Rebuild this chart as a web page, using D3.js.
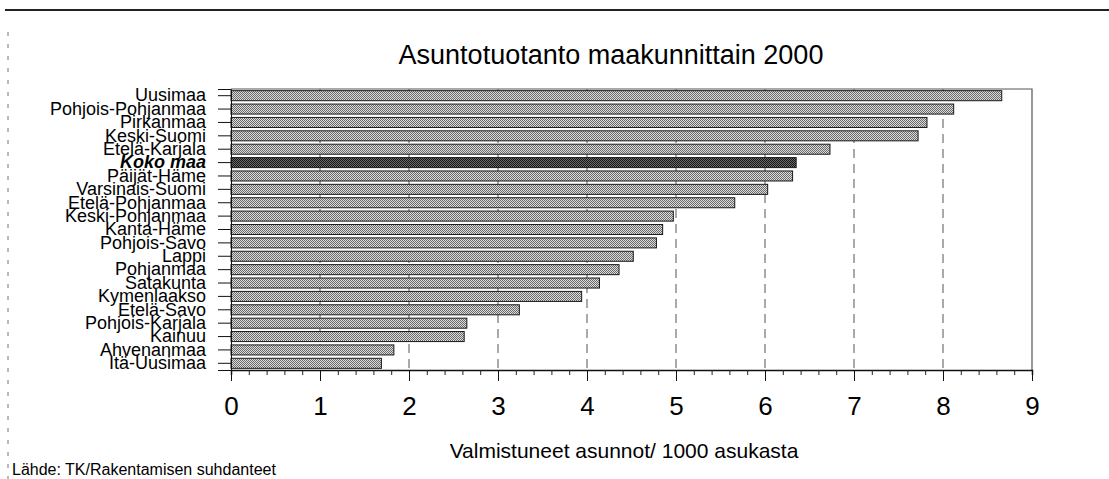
<!DOCTYPE html>
<html>
<head>
<meta charset="utf-8">
<script src="https://cdn.jsdelivr.net/npm/d3@7"></script>
<style>
  html, body { margin: 0; padding: 0; background: #fff; }
  svg { display: block; }
  text { font-family: "Liberation Sans", Arial, sans-serif; fill: #000; }
</style>
</head>
<body>
<svg id="chart" width="1109" height="479"></svg>
<script>
// Valmistuneet asunnot / 1000 asukasta, maakunnittain vuonna 2000
const regions = [
  "Uusimaa", "Pohjois-Pohjanmaa", "Pirkanmaa", "Keski-Suomi", "Etelä-Karjala",
  "Koko maa", "Päijät-Häme", "Varsinais-Suomi", "Etelä-Pohjanmaa", "Keski-Pohjanmaa",
  "Kanta-Häme", "Pohjois-Savo", "Lappi", "Pohjanmaa", "Satakunta",
  "Kymenlaakso", "Etelä-Savo", "Pohjois-Karjala", "Kainuu", "Ahvenanmaa", "Itä-Uusimaa"
];
const dwellingsPer1000 = [
  8.66, 8.12, 7.82, 7.72, 6.73,
  6.35, 6.31, 6.03, 5.66, 4.97,
  4.85, 4.78, 4.52, 4.36, 4.14,
  3.94, 3.24, 2.65, 2.62, 1.83, 1.69
];
const wholeCountry = "Koko maa";
const xTicks = [0, 1, 2, 3, 4, 5, 6, 7, 8, 9];
const titleText = "Asuntotuotanto maakunnittain 2000";
const xTitleText = "Valmistuneet asunnot/ 1000 asukasta";
const sourceText = "Lähde: TK/Rakentamisen suhdanteet";

const rows = regions.map((r, i) => ({ region: r, value: dwellingsPer1000[i] }));

const svg = d3.select("#chart");
const plot = { left: 231, right: 1032, top: 89, bottom: 370 };

const x = d3.scaleLinear().domain([0, 9]).range([plot.left, plot.right]);
const y = d3.scaleBand().domain(regions).range([plot.top, plot.bottom])
  .paddingInner(0.25).paddingOuter(0.125);

// halftone-like fills for the bars
const defs = svg.append("defs");
function halftone(id, bg, dot) {
  const p = defs.append("pattern").attr("id", id)
    .attr("width", 2).attr("height", 2).attr("patternUnits", "userSpaceOnUse");
  p.append("rect").attr("width", 2).attr("height", 2).attr("fill", bg);
  p.append("rect").attr("x", 0).attr("y", 0).attr("width", 1).attr("height", 1).attr("fill", dot);
  p.append("rect").attr("x", 1).attr("y", 1).attr("width", 1).attr("height", 1).attr("fill", dot);
}
halftone("fillRegion", "#dcdcdc", "#6a6a6a");
halftone("fillCountry", "#6a6a6a", "#151515");

// outer frame of the figure
svg.append("line").attr("x1", 5).attr("x2", 1109).attr("y1", 10).attr("y2", 10)
  .attr("stroke", "#222").attr("stroke-width", 2);
svg.append("line").attr("x1", 8).attr("x2", 8).attr("y1", 32).attr("y2", 479)
  .attr("stroke", "#777").attr("stroke-width", 1).attr("stroke-dasharray", "4,8");

// title
svg.append("text").attr("x", 611).attr("y", 64).attr("text-anchor", "middle")
  .style("font-size", "27px").text(titleText);

// dashed vertical gridlines
svg.append("g").selectAll("line").data(xTicks.filter(d => d > 0 && d < 9)).join("line")
  .attr("x1", d => x(d)).attr("x2", d => x(d))
  .attr("y1", plot.top).attr("y2", plot.bottom)
  .attr("stroke", "#555").attr("stroke-width", 1).attr("stroke-dasharray", "9,6");

// plot frame (top and right)
svg.append("path")
  .attr("d", `M${plot.left},${plot.top}H${plot.right}V${plot.bottom}`)
  .attr("fill", "none").attr("stroke", "#555").attr("stroke-width", 1.2);

// bars
svg.append("g").selectAll("rect").data(rows).join("rect")
  .attr("x", x(0))
  .attr("y", d => y(d.region))
  .attr("width", d => x(d.value) - x(0))
  .attr("height", y.bandwidth())
  .attr("fill", d => d.region === wholeCountry ? "url(#fillCountry)" : "url(#fillRegion)")
  .attr("stroke", "#1a1a1a").attr("stroke-width", 1);

// category axis
const yAxis = svg.append("g").attr("transform", `translate(${plot.left},0)`)
  .call(d3.axisLeft(y).tickSize(13).tickPadding(12));
yAxis.select(".domain").attr("stroke", "#111");
yAxis.selectAll(".tick line").attr("stroke", "#111");
yAxis.selectAll(".tick text")
  .style("font-size", "18px")
  .style("font-family", "'Liberation Sans', Arial, sans-serif")
  .style("font-weight", d => d === wholeCountry ? "bold" : "normal")
  .style("font-style", d => d === wholeCountry ? "italic" : "normal");

// value axis: minor ticks every 0.2, labelled ticks on integers
const xAxisG = svg.append("g").attr("transform", `translate(0,${plot.bottom})`);
xAxisG.call(d3.axisBottom(x).tickValues(d3.range(0, 9.001, 0.2)).tickSize(5).tickFormat(""));
xAxisG.call(g => g.select(".domain").attr("stroke", "#111").attr("stroke-width", 1.5));
xAxisG.selectAll(".tick line").attr("stroke", "#222");
const xMajor = svg.append("g").attr("transform", `translate(0,${plot.bottom})`)
  .call(d3.axisBottom(x).tickValues(xTicks).tickSize(11).tickPadding(16).tickFormat(d3.format("d")));
xMajor.select(".domain").remove();
xMajor.selectAll(".tick line").attr("stroke", "#111");
xMajor.selectAll(".tick text").style("font-size", "26px")
  .style("font-family", "'Liberation Sans', Arial, sans-serif");

// axis title and source
svg.append("text").attr("x", 624).attr("y", 458).attr("text-anchor", "middle")
  .style("font-size", "21px").text(xTitleText);
svg.append("text").attr("x", 12).attr("y", 475)
  .style("font-size", "16px").text(sourceText);
</script>
</body>
</html>
